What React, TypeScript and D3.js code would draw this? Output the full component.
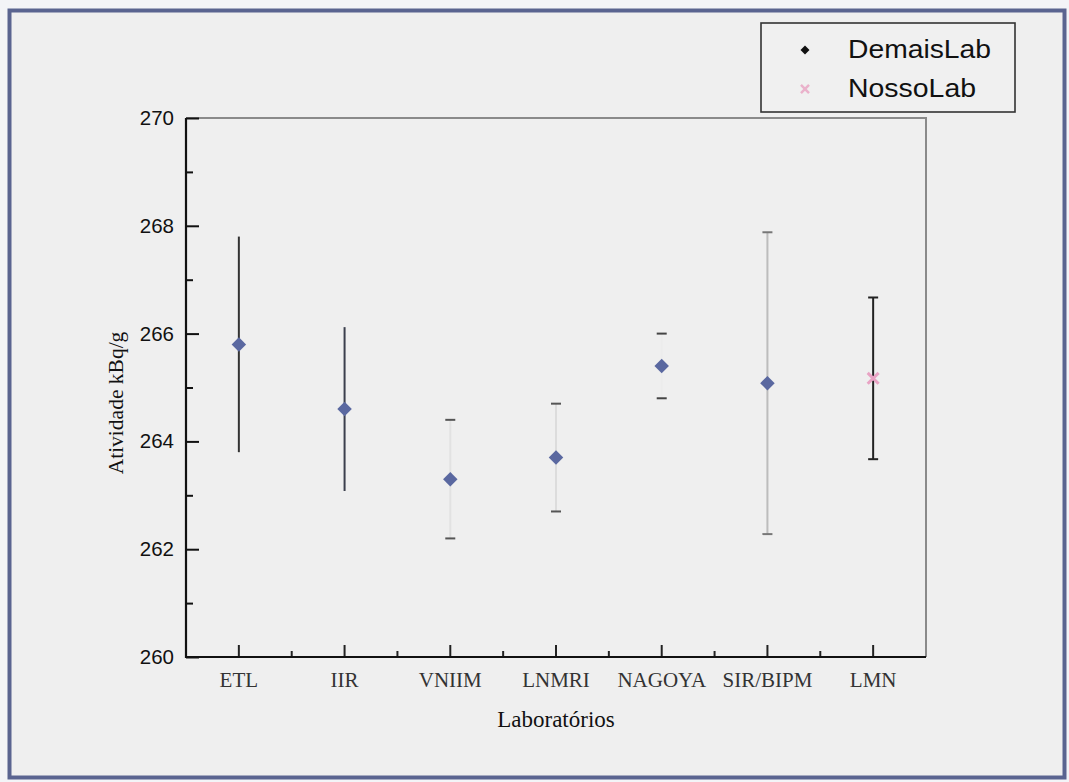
import * as d3 from 'd3'
import React, { useRef, useEffect } from 'react'

// laboratorios e resultados (kBq/g)
const labs = ['ETL', 'IIR', 'VNIIM', 'LNMRI', 'NAGOYA', 'SIR/BIPM', 'LMN']
const atividade = [265.8, 264.6, 263.3, 263.7, 265.4, 265.08, 265.17]
const incerteza = [2.0, 1.52, 1.1, 1.0, 0.6, 2.8, 1.5]
const grupo = ['DemaisLab', 'DemaisLab', 'DemaisLab', 'DemaisLab', 'DemaisLab', 'DemaisLab', 'NossoLab']
const yMajor = [260, 262, 264, 266, 268, 270]
const yMinor = [261, 263, 265, 267, 269]
const legendItems = ['DemaisLab', 'NossoLab']

// tom das barras de erro (o scan original tem barras bem apagadas)
const stemShade = ['#333', '#3b3f4d', '#e2e2e2', '#dcdcdc', '#ececec', '#bcbcbc', '#222']
const capShade = ['#333', '#3b3f4d', '#555', '#555', '#444', '#777', '#222']

export default function App() {
    const svgRef = useRef(null)

    useEffect(() => {
        const W = 1069
        const H = 782
        const left = 186, right = 926, top = 118, bottom = 657

        const svg = d3.select(svgRef.current)
        svg.selectAll('*').remove()
        svg.attr('width', W).attr('height', H)

        // fundo e moldura externa
        svg.append('rect').attr('width', W).attr('height', H).attr('fill', '#f3f4f7')
        svg.append('rect')
            .attr('x', 9.5).attr('y', 10.5).attr('width', 1055).attr('height', 767)
            .attr('fill', '#efefef').attr('stroke', '#5a6490').attr('stroke-width', 4)

        const x = d3.scaleBand().domain(labs).range([left, right])
        const y = d3.scaleLinear().domain([260, 270]).range([bottom, top])
        const cx = d => x(d) + x.bandwidth() / 2

        // caixa do grafico: topo e direita em cinza
        svg.append('path')
            .attr('d', `M${left},${top}H${right}V${bottom}`)
            .attr('fill', 'none').attr('stroke', '#8a8a8a').attr('stroke-width', 2)

        // eixo y
        const yAxis = svg.append('g').attr('transform', `translate(${left},0)`)
            .call(d3.axisLeft(y).tickValues(yMajor).tickSize(-13).tickPadding(12).tickFormat(d3.format('d')))
        yAxis.select('.domain').remove()
        yAxis.selectAll('line').attr('stroke', '#111').attr('stroke-width', 2)
        yAxis.selectAll('text')
            .style('font-family', '"Liberation Sans", Arial, sans-serif')
            .style('font-size', '20.5px').attr('fill', '#111')

        const yAxisMinor = svg.append('g').attr('transform', `translate(${left},0)`)
            .call(d3.axisLeft(y).tickValues(yMinor).tickSize(-7).tickFormat(() => ''))
        yAxisMinor.select('.domain').remove()
        yAxisMinor.selectAll('line').attr('stroke', '#111').attr('stroke-width', 2)

        // eixo x
        const xAxis = svg.append('g').attr('transform', `translate(0,${bottom})`)
            .call(d3.axisBottom(x).tickSize(-12).tickPadding(15))
        xAxis.select('.domain').remove()
        xAxis.selectAll('line').attr('stroke', '#222').attr('stroke-width', 2)
        xAxis.selectAll('text')
            .style('font-family', '"Liberation Serif", "Times New Roman", serif')
            .style('font-size', '21px').attr('fill', '#333')

        svg.append('g').selectAll('line')
            .data(labs.slice(1))
            .join('line')
            .attr('x1', d => x(d)).attr('x2', d => x(d))
            .attr('y1', bottom).attr('y2', bottom - 6)
            .attr('stroke', '#222').attr('stroke-width', 2)

        // linhas dos eixos
        svg.append('path')
            .attr('d', `M${left},${top}V${bottom}H${right}`)
            .attr('fill', 'none').attr('stroke', '#111').attr('stroke-width', 2.2)

        // titulos
        svg.append('text')
            .attr('x', (left + right) / 2).attr('y', 727)
            .attr('text-anchor', 'middle')
            .style('font-family', '"Liberation Serif", "Times New Roman", serif')
            .style('font-size', '23px').attr('fill', '#111')
            .text('Laboratórios')

        svg.append('text')
            .attr('transform', 'translate(123,403) rotate(-90)')
            .attr('text-anchor', 'middle')
            .style('font-family', '"Liberation Serif", "Times New Roman", serif')
            .style('font-size', '21.5px').attr('fill', '#111')
            .text('Atividade kBq/g')

        // barras de erro
        const rows = labs.map((lab, i) => ({
            lab, v: atividade[i], u: incerteza[i], g: grupo[i], stem: stemShade[i], cap: capShade[i]
        }))

        const bars = svg.append('g').selectAll('g').data(rows).join('g')
        bars.append('line')
            .attr('x1', d => cx(d.lab)).attr('x2', d => cx(d.lab))
            .attr('y1', d => y(d.v + d.u)).attr('y2', d => y(d.v - d.u))
            .attr('stroke', d => d.stem).attr('stroke-width', 2)
        bars.filter((d, i) => i > 1).selectAll('.cap')
            .data(d => [{ d, val: d.v + d.u }, { d, val: d.v - d.u }])
            .join('line')
            .attr('class', 'cap')
            .attr('x1', e => cx(e.d.lab) - 5).attr('x2', e => cx(e.d.lab) + 5)
            .attr('y1', e => y(e.val)).attr('y2', e => y(e.val))
            .attr('stroke', e => e.d.cap).attr('stroke-width', 2)

        // marcadores
        const diamond = d3.symbol().type(d3.symbolSquare).size(105)
        svg.append('g').selectAll('path')
            .data(rows.filter(d => d.g === 'DemaisLab'))
            .join('path')
            .attr('d', diamond)
            .attr('transform', d => `translate(${cx(d.lab)},${y(d.v)}) rotate(45)`)
            .attr('fill', '#5a68a0')

        const cross = d3.symbol().type(d3.symbolX).size(80)
        svg.append('g').selectAll('path')
            .data(rows.filter(d => d.g === 'NossoLab'))
            .join('path')
            .attr('d', cross)
            .attr('transform', d => `translate(${cx(d.lab)},${y(d.v)})`)
            .attr('fill', 'none').attr('stroke', '#e9a3c4').attr('stroke-width', 3)

        // legenda
        const lg = svg.append('g')
        lg.append('rect')
            .attr('x', 761).attr('y', 23).attr('width', 254).attr('height', 89)
            .attr('fill', '#f0f0f0').attr('stroke', '#333').attr('stroke-width', 1.6)
        const item = lg.selectAll('g.item').data(legendItems).join('g')
            .attr('class', 'item')
            .attr('transform', (d, i) => `translate(0,${i * 39})`)
        item.append('path')
            .attr('d', (d) => d === 'DemaisLab'
                ? d3.symbol().type(d3.symbolSquare).size(40)()
                : d3.symbol().type(d3.symbolX).size(44)())
            .attr('transform', d => d === 'DemaisLab' ? 'translate(805,50) rotate(45)' : 'translate(805,50)')
            .attr('fill', d => d === 'DemaisLab' ? '#111' : 'none')
            .attr('stroke', d => d === 'DemaisLab' ? 'none' : '#eab2cb')
            .attr('stroke-width', 2.5)
        item.append('text')
            .attr('x', 848).attr('y', 58)
            .attr('textLength', d => d === 'DemaisLab' ? 143 : 128)
            .attr('lengthAdjust', 'spacingAndGlyphs')
            .style('font-family', '"Liberation Sans", Arial, sans-serif')
            .style('font-size', '25px').attr('fill', '#111')
            .text(d => d)
    }, [])

    return (
        <svg ref={svgRef} style={{ position: 'absolute', left: 0, top: 0, display: 'block' }}></svg>
    )
}
